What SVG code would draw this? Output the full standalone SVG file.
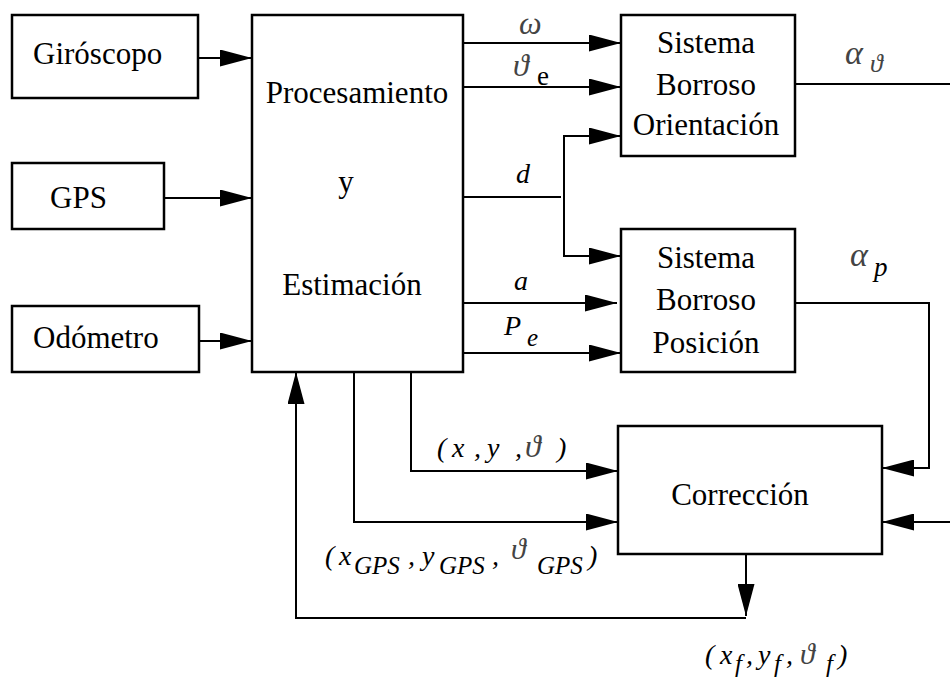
<svg xmlns="http://www.w3.org/2000/svg" width="950" height="677" viewBox="0 0 950 677">
<style>
.box{fill:#fff;stroke:#000;stroke-width:2.5}
.ln{fill:none;stroke:#000;stroke-width:2}
.ar{marker-end:url(#ah)}
.g{fill:#444}
</style>
<defs>
<marker id="ah" markerWidth="32" markerHeight="17" refX="32" refY="8.5" orient="auto" markerUnits="userSpaceOnUse">
<path d="M0,0 L32,8.5 L0,17 z" fill="#000"/>
</marker>
</defs>
<rect width="950" height="677" fill="#fff"/>
<g id="connectors">
<path class="ln ar" d="M198,58 H252"/>
<path class="ln ar" d="M164,198 H252"/>
<path class="ln ar" d="M199,341 H252"/>
<path class="ln ar" d="M463,43 H621"/>
<path class="ln ar" d="M463,87 H621"/>
<path class="ln" d="M463,197 H561"/>
<path class="ln ar" d="M564,197 V136 H621"/>
<path class="ln ar" d="M564,197 V256 H621"/>
<path class="ln ar" d="M463,303 H617"/>
<path class="ln ar" d="M463,353 H621"/>
<path class="ln" d="M795,84 H950"/>
<path class="ln ar" d="M792,303 H929 V468 H882"/>
<path class="ln ar" d="M950,522 H882"/>
<path class="ln ar" d="M411,372 V471 H618"/>
<path class="ln ar" d="M354,372 V522 H618"/>
<path class="ln ar" d="M746,554 V616"/>
<path class="ln ar" d="M746,618 H296 V372"/>
</g>
<g font-family="Liberation Serif, Times New Roman, DejaVu Serif, serif" font-size="31" fill="#000">
<g id="giroscopo"><rect class="box" x="12" y="15" width="186" height="83"/><text x="33" y="64">Giróscopo</text></g>
<g id="gps"><rect class="box" x="12" y="163" width="152" height="66"/><text x="50" y="208">GPS</text></g>
<g id="odometro"><rect class="box" x="12" y="306" width="187" height="66"/><text x="33" y="348">Odómetro</text></g>
<g id="procesamiento"><rect class="box" x="252" y="15" width="211" height="357"/>
<text x="357" y="103" text-anchor="middle">Procesamiento</text>
<text x="346" y="192" text-anchor="middle">y</text>
<text x="352" y="295" text-anchor="middle">Estimación</text></g>
<g id="orientacion"><rect class="box" x="621" y="15" width="174" height="141"/>
<text x="706" y="53" text-anchor="middle">Sistema</text>
<text x="706" y="95" text-anchor="middle">Borroso</text>
<text x="706" y="135" text-anchor="middle">Orientación</text></g>
<g id="posicion"><rect class="box" x="621" y="229" width="174" height="143"/>
<text x="706" y="268" text-anchor="middle">Sistema</text>
<text x="706" y="310" text-anchor="middle">Borroso</text>
<text x="706" y="353" text-anchor="middle">Posición</text></g>
<g id="correccion"><rect class="box" x="618" y="426" width="264" height="128"/>
<text x="740" y="505" text-anchor="middle">Corrección</text></g>
<g id="labels" font-style="italic" font-size="28">
<text class="g" x="519" y="34" font-size="32">ω</text>
<text class="g" x="513" y="76" font-size="32">ϑ</text><text x="537" y="85" font-size="27" font-style="normal">e</text>
<text x="516" y="183">d</text>
<text x="514" y="290">a</text>
<text x="504" y="335">P</text><text x="527" y="346" font-size="25">e</text>
<text class="g" x="845" y="64" font-size="34">α</text><text class="g" x="870" y="72" font-size="26">ϑ</text>
<text class="g" x="850" y="266" font-size="34">α</text><text x="874" y="276" font-size="27">p</text>
<text><tspan x="437" y="457">(</tspan><tspan x="452">x</tspan><tspan x="474">,</tspan><tspan x="487">y</tspan><tspan x="515">,</tspan><tspan x="525" class="g" font-size="32">ϑ</tspan><tspan x="557">)</tspan></text>
<text><tspan x="325" y="565">(</tspan><tspan x="339">x</tspan><tspan font-size="25" x="354" y="574">GPS</tspan><tspan x="408" y="565">,</tspan><tspan x="422">y</tspan><tspan font-size="25" x="439" y="574">GPS</tspan><tspan x="492" y="565">,</tspan><tspan x="511" y="559" class="g" font-size="30">ϑ</tspan><tspan font-size="25" x="537" y="574">GPS</tspan><tspan x="588" y="565">)</tspan></text>
<text><tspan x="705" y="664">(</tspan><tspan x="720">x</tspan><tspan font-size="25" x="735" y="672">f</tspan><tspan x="746" y="664">,</tspan><tspan x="758">y</tspan><tspan font-size="25" x="774" y="672">f</tspan><tspan x="786" y="664">,</tspan><tspan x="800" class="g" font-size="30">ϑ</tspan><tspan font-size="25" x="826" y="672">f</tspan><tspan x="838" y="664">)</tspan></text>
</g>
</g>
</svg>
